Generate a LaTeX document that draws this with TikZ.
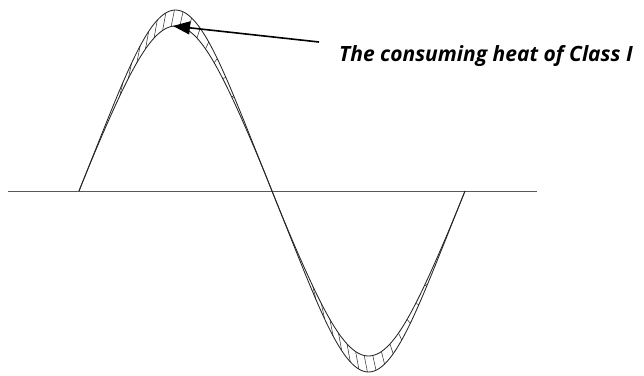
\documentclass[tikz,border=0pt]{standalone}
\usepackage{fontspec}
\setsansfont{Open Sans}
\usetikzlibrary{arrows.meta}

\begin{document}
\begin{tikzpicture}[
  x=1pt, y=-1pt,
  declare function={
    xw(\t)=79+1.07222*\t;
    sh(\t)=0.85*sin(\t)+0.15*sin(\t)*sin(\t)*sin(\t);
    yo(\t)=191-181*sh(\t);
    yi(\t)=yo(\t)+16*sin(\t)*abs(sin(\t));
  },
  axis/.style={draw=black!65, line width=0.9pt},
  wave/.style={draw=black!85, line width=0.85pt},
  hatch/.style={draw=black!85, line width=0.5pt},
  lbl/.style={font=\sffamily\bfseries\itshape\fontsize{21}{24}\selectfont, anchor=base west, inner sep=0pt},
  arr/.style={-{Triangle[length=17pt,width=13pt]}, line width=1.6pt},
]
\useasboundingbox (0,0) rectangle (644,375);
% ================= axis and waves =================
\draw[axis] (8,191) -- (537,191);
\draw[wave] plot[domain=0:360, samples=145, smooth] ({xw(\x)},{yo(\x)});
\draw[wave] plot[domain=0:360, samples=145, smooth] ({xw(\x)},{yi(\x)});
% ================= hatching =================
\foreach \t in {38,46,...,142} {
  \draw[hatch] ({xw(\t)},{yi(\t)}) -- ({xw(\t+3)},{yo(\t+3)});
}
\foreach \t in {218,226,...,322} {
  \draw[hatch] ({xw(\t+3)},{yo(\t+3)}) -- ({xw(\t)},{yi(\t)});
}
% ================= label =================
\coordinate (peak) at (173,26);
\node[lbl] (heat) at (339,61) {The consuming heat of Class I};
\draw[arr] (319,42) coordinate (tail) -- (peak);
\end{tikzpicture}
\end{document}
